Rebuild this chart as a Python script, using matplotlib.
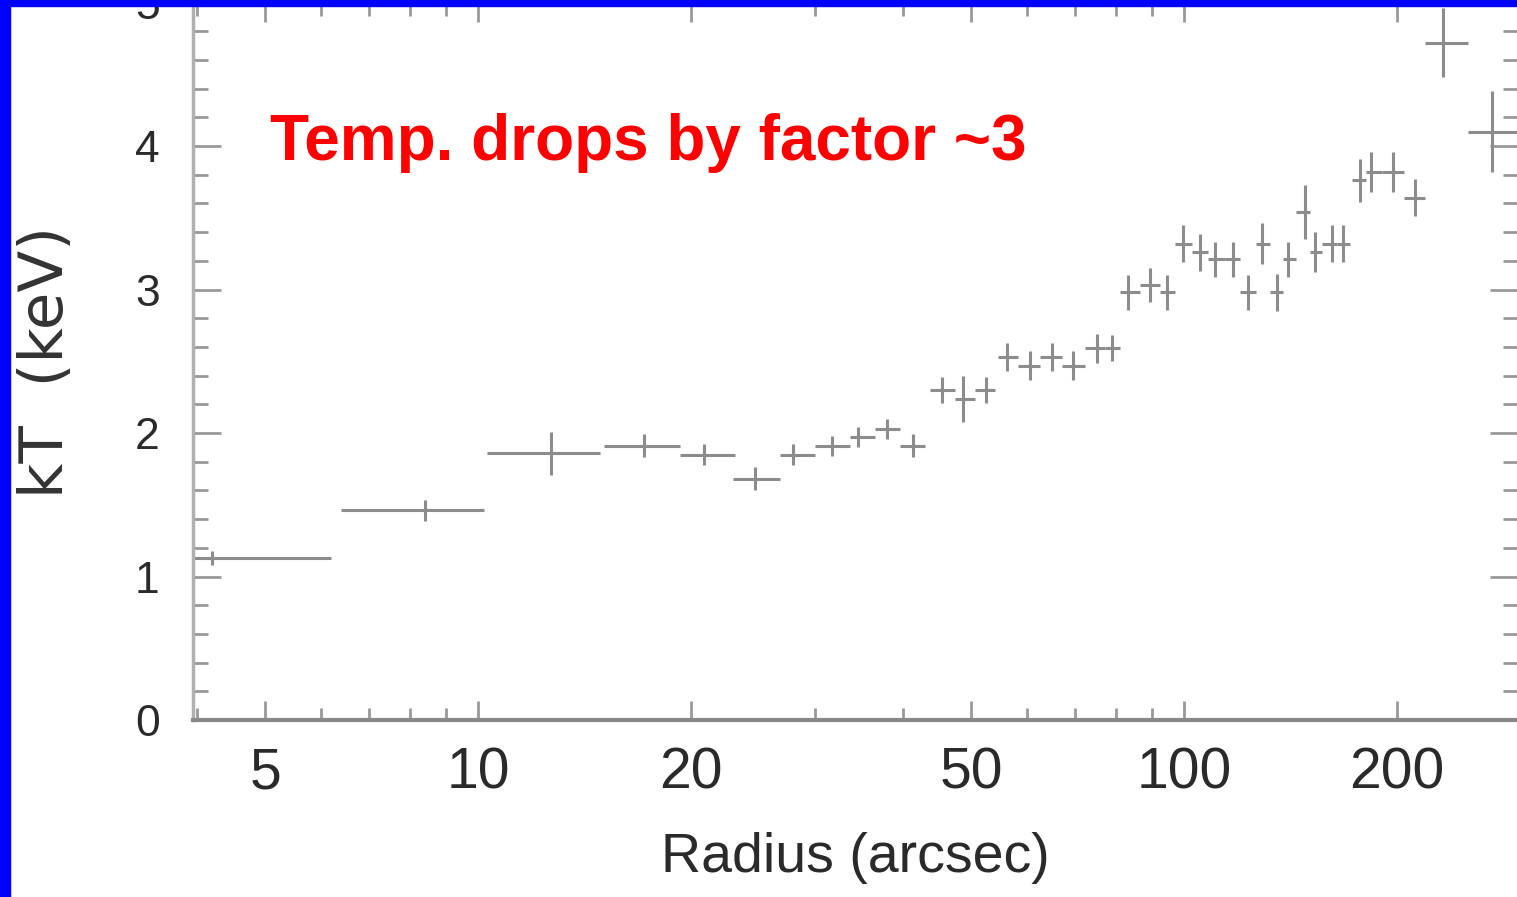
import matplotlib
matplotlib.use('Agg')
import matplotlib.pyplot as plt
from matplotlib.patches import Rectangle
from matplotlib.ticker import FixedLocator, MultipleLocator
import numpy as np

# Projected temperature profile: bin centre, bin edges (arcsec) and kT with 1-sigma error (keV)
radius = [4.2, 8.4, 12.7, 17.2, 20.9, 24.7, 27.9, 31.7, 34.5, 37.9,
          41.3, 45.4, 48.6, 52.4, 56.2, 60.5, 65.0, 69.6, 75.3, 79.1,
          83.3, 89.5, 94.6, 99.7, 105.4, 110.6, 117.3, 123.2, 129.0, 135.5,
          140.4, 148.4, 153.3, 162.0, 168.0, 177.6, 184.0, 197.7, 212.4, 232.8,
          273.1]
radius_lo = [2.2, 6.4, 10.3, 15.1, 19.3, 23.0, 26.8, 30.0, 33.6, 36.5,
             39.6, 43.7, 47.4, 50.6, 54.5, 58.2, 62.5, 67.2, 72.4, 77.3,
             81.2, 86.7, 92.5, 97.1, 102.6, 108.1, 114.3, 120.1, 126.5, 132.4,
             138.1, 144.1, 150.8, 156.8, 164.7, 173.0, 181.1, 190.8, 205.0, 219.5,
             252.6]
radius_hi = [6.2, 10.2, 14.9, 19.3, 23.1, 26.8, 30.0, 33.6, 36.5, 39.6,
             43.0, 47.4, 50.6, 54.0, 58.2, 62.5, 67.2, 72.4, 77.3, 81.2,
             86.7, 92.5, 97.1, 102.6, 108.1, 114.3, 120.1, 126.5, 132.4, 138.1,
             144.1, 150.8, 156.8, 164.7, 171.8, 181.1, 190.8, 205.0, 219.5, 252.6,
             296.0]
kT = [1.13, 1.46, 1.86, 1.91, 1.85, 1.68, 1.85, 1.91, 1.97, 2.03,
      1.91, 2.30, 2.24, 2.30, 2.53, 2.47, 2.53, 2.47, 2.59, 2.59,
      2.98, 3.03, 2.98, 3.32, 3.26, 3.21, 3.21, 2.98, 3.32, 2.98,
      3.21, 3.54, 3.26, 3.32, 3.32, 3.76, 3.82, 3.82, 3.64, 4.72,
      4.10]
kT_err = [0.05, 0.07, 0.15, 0.08, 0.07, 0.08, 0.07, 0.07, 0.07, 0.07,
          0.08, 0.09, 0.16, 0.09, 0.10, 0.10, 0.10, 0.10, 0.10, 0.09,
          0.12, 0.12, 0.12, 0.13, 0.13, 0.12, 0.12, 0.12, 0.14, 0.13,
          0.12, 0.19, 0.14, 0.13, 0.13, 0.15, 0.14, 0.14, 0.13, 0.24,
          0.28]

x_ticks = [5, 10, 20, 50, 100, 200]
x_minor = [4, 6, 7, 8, 9, 30, 40, 60, 70, 80, 90, 300]
y_ticks = [0, 1, 2, 3, 4, 5]

SANS = ['Liberation Sans', 'DejaVu Sans']
INK = '#2a2a2a'
GREY = '#8c8c8c'

W, H = 1517, 897
fig = plt.figure(figsize=(W / 100, H / 100), dpi=100)
ax = fig.add_axes([193 / W, 1 - 720 / H, (1518 - 193) / W, 717.5 / H])

r = np.array(radius)
xerr = [r - np.array(radius_lo), np.array(radius_hi) - r]
ax.errorbar(radius, kT, xerr=xerr, yerr=kT_err, fmt='none',
            ecolor=GREY, elinewidth=2.2, capsize=0)

ax.set_xscale('log')
ax.set_xlim(3.948, 297.2)
ax.set_ylim(0, 5)

ax.xaxis.set_major_locator(FixedLocator(x_ticks))
ax.xaxis.set_minor_locator(FixedLocator(x_minor))
ax.set_xticklabels([str(t) for t in x_ticks])
ax.yaxis.set_major_locator(FixedLocator(y_ticks))
ax.yaxis.set_minor_locator(MultipleLocator(0.2))
ax.set_yticklabels([str(t) for t in y_ticks])

ax.tick_params(axis='both', which='both', direction='in', color='#999999',
               width=2, top=True, right=True, labelcolor=INK)
ax.tick_params(axis='x', which='major', length=14, pad=19, labelsize=41)
ax.tick_params(axis='x', which='minor', length=9)
ax.tick_params(axis='y', which='major', length=20, pad=24, labelsize=32)
ax.tick_params(axis='y', which='minor', length=11)
for lab in ax.get_xticklabels() + ax.get_yticklabels():
    lab.set_family(SANS)

ax.spines['top'].set_visible(False)
ax.spines['right'].set_visible(False)
ax.spines['left'].set_color('#b0b0b0')
ax.spines['left'].set_linewidth(2.5)
ax.spines['bottom'].set_color('#888888')
ax.spines['bottom'].set_linewidth(3)

ax.set_xlabel('Radius (arcsec)', fontsize=40, family=SANS, color=INK)
ax.xaxis.set_label_coords(0.5, -0.156)
ax.set_ylabel('kT  (keV)', fontsize=44, family='DejaVu Sans', color='#333333')
ax.yaxis.set_label_coords(-0.088, 0.499)

fig.text(270 / W, 1 - 160 / H, 'Temp. drops by factor ~3', color='#ff0000',
         fontsize=46, fontweight='bold', family='Liberation Sans',
         ha='left', va='baseline')

# blue frame along the left and top edges
fig.add_artist(Rectangle((0, 0), 10 / W, 1, transform=fig.transFigure,
                         color='#0000ff', zorder=10))
fig.add_artist(Rectangle((0, 1 - 6 / H), 1, 6 / H, transform=fig.transFigure,
                         color='#0000ff', zorder=10))

fig.savefig('out.png', dpi=100)
